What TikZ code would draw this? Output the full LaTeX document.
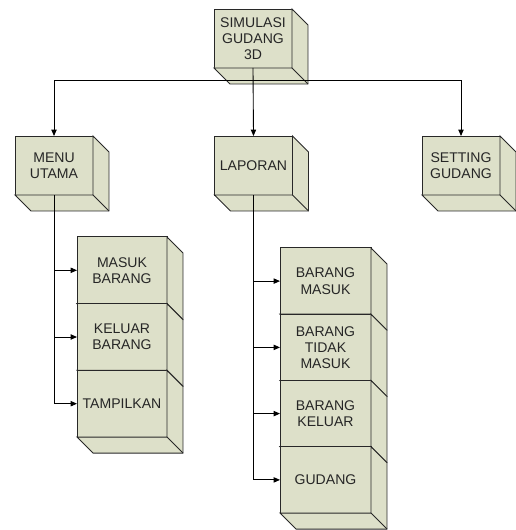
\documentclass[tikz,border=0pt]{standalone}
\usepackage{fontspec}
\setmainfont{Liberation Sans}
\usepackage{xcolor}
\usepackage{tikz}
\usetikzlibrary{arrows.meta}
\usetikzlibrary{calc}

\definecolor{isi}{RGB}{221,224,201}
\definecolor{garis}{RGB}{40,40,40}

\tikzset{
	muka/.style={draw=garis,fill=isi,line width=0.55pt,line join=miter},
	kotak/.style={muka,rectangle,inner sep=0pt,outer sep=0pt,align=center,
		text=black!85,font=\fontsize{8}{9.2}\selectfont},
	panah/.style={draw=black,line width=0.5pt,-{Triangle[length=3.6pt,width=3pt]}}
}

% sisi samping dan bawah dari kotak 3D
\newcommand{\sisi}[1]{
	\draw[muka] (#1.north east) -- ([shift={(16,16)}]#1.north east)
		-- ([shift={(16,16)}]#1.south east) -- ([shift={(16,16)}]#1.south west)
		-- (#1.south west) -- (#1.south east) -- cycle;
	\draw[muka] (#1.south east) -- ([shift={(16,16)}]#1.south east);
}

\begin{document}
\begin{tikzpicture}[x=0.02cm,y=-0.02cm]
		\useasboundingbox (0,0) rectangle (515,530);
		\node[kotak,minimum width=1.56cm,minimum height=1.18cm] (sim) at (253,38.5) {SIMULASI\\GUDANG\\3D};
		\sisi{sim}
		\node[kotak,minimum width=1.56cm,minimum height=1.18cm] (menu) at (54,165.5) {MENU\\UTAMA};
		\sisi{menu}
		\node[kotak,minimum width=1.56cm,minimum height=1.18cm] (lap) at (253.5,165.5) {LAPORAN};
		\sisi{lap}
		\node[kotak,minimum width=1.56cm,minimum height=1.18cm] (set) at (461,165.5) {SETTING\\GUDANG};
		\sisi{set}
		\coordinate (cabang) at ($(sim.south)+(0,12)$);
		\draw[panah] (sim.south) -- (lap.north);
		\draw[panah] (cabang) -| (menu.north);
		\draw[panah] (cabang) -| (set.north);
		% menu utama
		\node[kotak,minimum width=1.8cm,minimum height=1.333cm] (mb) at (122,270.3) {MASUK\\BARANG};
		\sisi{mb}
		\node[kotak,minimum width=1.8cm,minimum height=1.333cm] (kb) at (122,337) {KELUAR\\BARANG};
		\sisi{kb}
		\node[kotak,minimum width=1.8cm,minimum height=1.333cm] (tp) at (122,403.7) {TAMPILKAN};
		\sisi{tp}
		\draw[panah] (menu.south) |- (tp.west);
		\coordinate (m1) at (menu.south |- mb.west);
		\coordinate (m2) at (menu.south |- kb.west);
		\draw[panah] (m1) -- (mb.west);
		\draw[panah] (m2) -- (kb.west);
		% laporan
		\node[kotak,minimum width=1.82cm,minimum height=1.325cm] (bm) at (325.5,281.1) {BARANG\\MASUK};
		\sisi{bm}
		\node[kotak,minimum width=1.82cm,minimum height=1.325cm] (btm) at (325.5,347.4) {BARANG\\TIDAK\\MASUK};
		\sisi{btm}
		\node[kotak,minimum width=1.82cm,minimum height=1.325cm] (bk) at (325.5,413.6) {BARANG\\KELUAR};
		\sisi{bk}
		\node[kotak,minimum width=1.82cm,minimum height=1.325cm] (gd) at (325.5,479.9) {GUDANG};
		\sisi{gd}
		\draw[panah] (lap.south) |- (gd.west);
		\coordinate (l1) at (lap.south |- bm.west);
		\coordinate (l2) at (lap.south |- btm.west);
		\coordinate (l3) at (lap.south |- bk.west);
		\draw[panah] (l1) -- (bm.west);
		\draw[panah] (l2) -- (btm.west);
		\draw[panah] (l3) -- (bk.west);
\end{tikzpicture}
\end{document}
